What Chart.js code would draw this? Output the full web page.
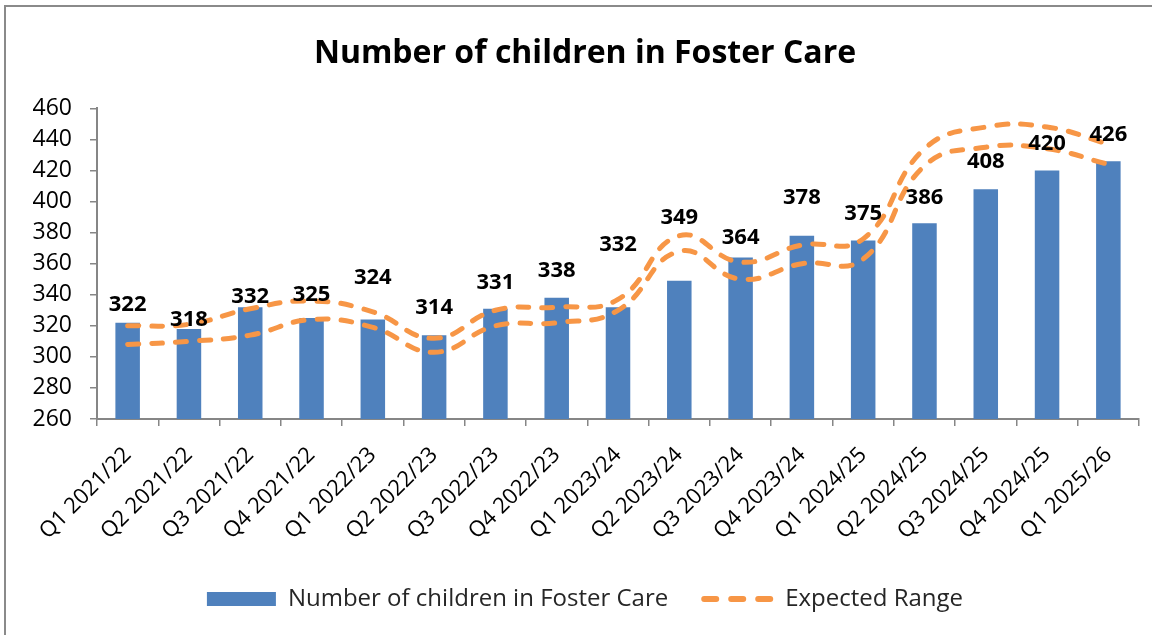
<!DOCTYPE html>
<html>
<head>
<meta charset="utf-8">
<title>Number of children in Foster Care</title>
<script src="https://cdn.jsdelivr.net/npm/chart.js@4/dist/chart.umd.min.js"></script>
<style>
  html, body { margin: 0; padding: 0; background: #fff; }
  #wrap { position: relative; width: 1152px; height: 635px; overflow: hidden; }
  #frame { position: absolute; left: 4px; top: 5px; right: -10px; bottom: -10px;
           border-top: 2px solid #8a8a8a; border-left: 2px solid #8a8a8a; }
  canvas { position: absolute; left: 0; top: 0; }
</style>
</head>
<body>
<div id="wrap">
  <div id="frame"></div>
  <canvas id="fosterChart" width="1152" height="635"></canvas>
</div>
<script>
// Quý
const quarters = [
    "Q1 2021/22", "Q2 2021/22", "Q3 2021/22", "Q4 2021/22",
    "Q1 2022/23", "Q2 2022/23", "Q3 2022/23", "Q4 2022/23",
    "Q1 2023/24", "Q2 2023/24", "Q3 2023/24", "Q4 2023/24",
    "Q1 2024/25", "Q2 2024/25", "Q3 2024/25", "Q4 2024/25",
    "Q1 2025/26"
];

// Số trẻ em đang được nuôi dưỡng
const childrenInCare = [322, 318, 332, 325, 324, 314, 331, 338, 332, 349, 364, 378, 375, 386, 408, 420, 426];

// Khoảng dự kiến (cận trên / cận dưới)
const rangeUpper = [320, 321, 331, 336, 329, 312, 330, 332, 337, 378, 361, 372, 376, 434, 448, 448, 437];
const rangeLower = [308, 310, 314, 324, 319, 303, 320, 322, 330, 368, 350, 360, 363, 423, 435, 434, 424];

// Trục Y
const yMin = 260;
const yMax = 460;
const yStep = 20;

// Độ nâng nhãn số liệu so với đỉnh cột (px)
const labelRaise = [18, 9, 10, 23, 42, 27, 26, 27, 62, 63, 20, 38, 27, 26, 27, 27, 26];

const axisGrey = "#868686";
const fontFamily = "'Open Sans', 'Noto Sans', sans-serif";

// Plugin vẽ nhãn số liệu trên cột
const barValueLabels = {
    id: "barValueLabels",
    afterDatasetsDraw(chart) {
        const ctx = chart.ctx;
        const meta = chart.getDatasetMeta(0);
        ctx.save();
        ctx.font = "bold 22px " + fontFamily;
        ctx.fillStyle = "#000";
        ctx.textAlign = "center";
        ctx.textBaseline = "middle";
        meta.data.forEach((bar, i) => {
            ctx.fillText(String(childrenInCare[i]), bar.x, bar.y - labelRaise[i]);
        });
        ctx.restore();
    }
};

function createFosterChart() {
    const ctx = document.getElementById("fosterChart").getContext("2d");

    const lineStyle = {
        type: "line",
        borderColor: "#F79646",
        backgroundColor: "#F79646",
        borderWidth: 5,
        borderDash: [11, 13],
        borderCapStyle: "round",
        pointRadius: 0,
        pointHoverRadius: 0,
        tension: 0.45,
        fill: false,
        order: 0
    };

    return new Chart(ctx, {
        type: "bar",
        data: {
            labels: quarters,
            datasets: [
                {
                    label: "Number of children in Foster Care",
                    data: childrenInCare,
                    backgroundColor: "#4F81BD",
                    borderWidth: 0,
                    barPercentage: 0.4,
                    categoryPercentage: 1.0,
                    order: 1
                },
                Object.assign({ label: "Expected Range", data: rangeUpper }, lineStyle),
                Object.assign({ label: "Expected Range (lower)", data: rangeLower }, lineStyle)
            ]
        },
        options: {
            responsive: false,
            animation: false,
            layout: {
                padding: { left: 31, right: 13, top: 0, bottom: 14 }
            },
            plugins: {
                title: {
                    display: true,
                    text: "Number of children in Foster Care",
                    color: "#000",
                    font: { family: fontFamily, size: 32, weight: "bold" },
                    padding: { top: 35, bottom: 35 }
                },
                legend: {
                    position: "bottom",
                    labels: {
                        color: "#262626",
                        font: { family: fontFamily, size: 24 },
                        usePointStyle: true,
                        pointStyleWidth: 69,
                        boxHeight: 14,
                        padding: 36,
                        filter: item => item.datasetIndex < 2,
                        sort: (a, b) => a.datasetIndex - b.datasetIndex,
                        generateLabels(chart) {
                            const items = Chart.defaults.plugins.legend.labels.generateLabels(chart);
                            items.forEach(item => {
                                if (item.datasetIndex === 0) {
                                    item.pointStyle = "rect";
                                    item.lineWidth = 0;
                                } else {
                                    item.pointStyle = "line";
                                    item.lineWidth = 6;
                                    item.lineDash = [12, 15];
                                    item.lineCap = "round";
                                }
                            });
                            return items;
                        }
                    }
                },
                tooltip: { enabled: false }
            },
            scales: {
                x: {
                    afterFit(scale) {
                        scale.height = 132;
                    },
                    grid: {
                        drawOnChartArea: false,
                        drawTicks: true,
                        tickLength: 7,
                        color: axisGrey,
                        lineWidth: 1.5
                    },
                    border: { color: axisGrey, width: 2 },
                    ticks: {
                        color: "#000",
                        font: { family: fontFamily, size: 22 },
                        maxRotation: 45,
                        minRotation: 45,
                        autoSkip: false,
                        padding: 16
                    }
                },
                y: {
                    min: yMin,
                    max: yMax,
                    afterFit(scale) {
                        scale.width = 66;
                    },
                    grid: {
                        drawOnChartArea: false,
                        drawTicks: true,
                        tickLength: 7,
                        color: axisGrey,
                        lineWidth: 1.5
                    },
                    border: { color: axisGrey, width: 2 },
                    ticks: {
                        stepSize: yStep,
                        color: "#000",
                        font: { family: fontFamily, size: 23 },
                        padding: 18
                    }
                }
            }
        },
        plugins: [barValueLabels]
    });
}

document.addEventListener("DOMContentLoaded", () => {
    createFosterChart();
});
</script>
</body>
</html>
